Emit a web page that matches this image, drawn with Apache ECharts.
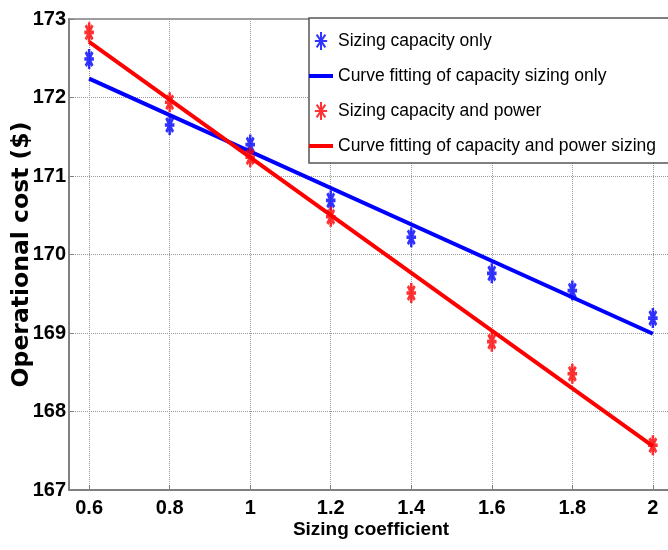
<!DOCTYPE html>
<html><head><meta charset="utf-8">
<script src="https://cdn.jsdelivr.net/npm/echarts@6/dist/echarts.min.js"></script>
<style>html,body{margin:0;padding:0;background:#fff}#c{width:668px;height:550px}</style>
</head><body><div id="c"></div>
<script>
const coeffs = [0.6, 0.8, 1.0, 1.2, 1.4, 1.6, 1.8, 2.0];
const capacityOnly = [172.49, 171.65, 171.40, 170.69, 170.22, 169.76, 169.54, 169.19];
const capacityAndPower = [172.83, 171.94, 171.24, 170.48, 169.51, 168.89, 168.48, 167.57];
const fitX = [0.6, 2.0];
const capacityFit = [172.24, 168.99];
const capacityPowerFit = [172.71, 167.56];
const xTicks = [0.6, 0.8, 1, 1.2, 1.4, 1.6, 1.8, 2];
const seriesNames = [
  'Sizing capacity only',
  'Curve fitting of capacity sizing only',
  'Sizing capacity and power',
  'Curve fitting of capacity and power sizing'
];
const xName = 'Sizing coefficient';
const yName = 'Operational cost ($)';

const sans = "'Liberation Sans', Arial, sans-serif";
const star = 'path://M0,-9.5L0,9.5M-6.5,0L6.5,0M-4.6,-6.7L4.6,6.7M4.6,-6.7L-4.6,6.7';
const bar = 'path://M0,0L24,0L24,4L0,4Z';

const chart = echarts.init(document.getElementById('c'));
chart.setOption({
  animation: false,
  backgroundColor: '#fff',
  grid: { left: 69, right: -5, top: 19, bottom: 60, show: true, borderColor: '#808080', borderWidth: 1.5,
    containLabel: false, outerBoundsMode: 'none' },
  xAxis: {
    type: 'value', min: 0.55, max: 2.05,
    name: xName, nameLocation: 'middle', nameGap: 30, nameMoveOverlap: false,
    nameTextStyle: { fontFamily: sans, fontWeight: 'bold', fontSize: 19, color: '#000' },
    axisLine: { lineStyle: { color: '#808080', width: 2 } },
    axisTick: { show: true, inside: true, length: 5, customValues: xTicks, lineStyle: { color: '#808080' } },
    axisLabel: { customValues: xTicks, margin: 8, fontFamily: sans, fontWeight: 'bold', fontSize: 20, color: '#000',
      formatter: v => String(v) },
    splitLine: { show: true, lineStyle: { type: 'dotted', color: '#999', width: 1 } }
  },
  yAxis: {
    type: 'value', min: 167, max: 173, interval: 1,
    name: yName, nameLocation: 'middle', nameGap: 35, nameMoveOverlap: false,
    nameTextStyle: { fontFamily: "'DejaVu Sans', sans-serif", fontWeight: 'bold', fontSize: 23.5, color: '#000' },
    axisLine: { show: true, lineStyle: { color: '#808080', width: 2 } },
    axisTick: { show: true, inside: true, length: 5, lineStyle: { color: '#808080' } },
    axisLabel: { margin: 3, fontFamily: sans, fontWeight: 'bold', fontSize: 20, color: '#000' },
    splitLine: { show: true, lineStyle: { type: 'dotted', color: '#999', width: 1 } }
  },
  legend: {
    orient: 'vertical', left: 309, top: 31, itemWidth: 24, itemHeight: 18, itemGap: 16, padding: 0, z: 100,
    symbolKeepAspect: true,
    textStyle: { fontFamily: sans, fontSize: 17.5, color: '#000' },
    data: [
      { name: seriesNames[0], icon: star },
      { name: seriesNames[1], icon: bar },
      { name: seriesNames[2], icon: star },
      { name: seriesNames[3], icon: bar }
    ]
  },
  graphic: {
    elements: [{
      type: 'rect', z: 50, shape: { x: 309, y: 18, width: 420, height: 145 },
      style: { fill: '#fff', stroke: '#555', lineWidth: 1.5 }
    }]
  },
  series: [
    {
      name: seriesNames[0], type: 'scatter', symbol: star, symbolSize: [14, 20], symbolKeepAspect: true,
      itemStyle: { color: 'rgba(0,0,0,0)', borderColor: '#0000ff', borderWidth: 3 },
      data: coeffs.map((x, i) => [x, capacityOnly[i]]), z: 4
    },
    {
      name: seriesNames[1], type: 'line', symbol: 'none', color: '#0000ff',
      lineStyle: { width: 4, color: '#0000ff' },
      data: fitX.map((x, i) => [x, capacityFit[i]]), z: 3
    },
    {
      name: seriesNames[2], type: 'scatter', symbol: star, symbolSize: [14, 20], symbolKeepAspect: true,
      itemStyle: { color: 'rgba(0,0,0,0)', borderColor: '#ff0000', borderWidth: 3 },
      data: coeffs.map((x, i) => [x, capacityAndPower[i]]), z: 4
    },
    {
      name: seriesNames[3], type: 'line', symbol: 'none', color: '#ff0000',
      lineStyle: { width: 4, color: '#ff0000' },
      data: fitX.map((x, i) => [x, capacityPowerFit[i]]), z: 3
    }
  ]
});
</script></body></html>
